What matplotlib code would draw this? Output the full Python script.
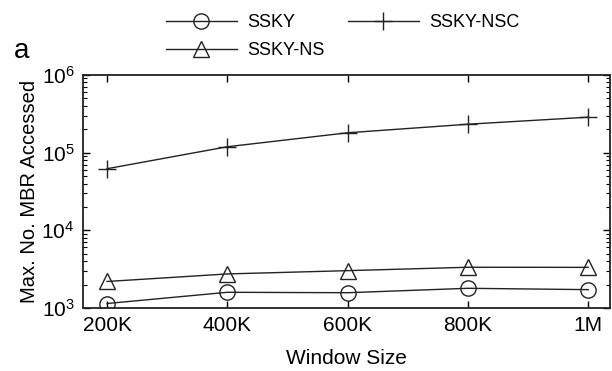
import matplotlib
matplotlib.use('Agg')
import matplotlib.pyplot as plt
from matplotlib.ticker import LogLocator, NullFormatter

# data
window_labels = ['200K', '400K', '600K', '800K', '1M']
x = [1, 2, 3, 4, 5]
sskY = [1140, 1590, 1570, 1790, 1720]
sskY_nsc = [62000, 119000, 180000, 232000, 286000]
sskY_ns = [2190, 2740, 3020, 3340, 3330]

plt.rcParams['font.family'] = ['Liberation Sans', 'DejaVu Sans']
plt.rcParams['mathtext.fontset'] = 'custom'
plt.rcParams['mathtext.rm'] = 'Liberation Sans'

fig = plt.figure(figsize=(6.12, 3.71), dpi=100)
ax = fig.add_axes([0.1356, 0.170, 0.861, 0.628])

l1, = ax.plot(x, sskY, color='#222222', lw=1, marker='o', ms=11, mfc='none', mec='#222222', mew=1, label='SSKY')
l2, = ax.plot(x, sskY_nsc, color='#222222', lw=1, marker='+', ms=13, mew=1, label='SSKY-NSC')
l3, = ax.plot(x, sskY_ns, color='#222222', lw=1, marker='^', ms=11, mfc='none', mec='#222222', mew=1, label='SSKY-NS')

ax.set_yscale('log')
ax.set_ylim(1e3, 1e6)
ax.set_xlim(0.8, 5.18)
ax.set_xticks(x)
ax.set_xticklabels(window_labels)
ax.yaxis.set_major_locator(LogLocator(base=10, numticks=10))
ax.yaxis.set_minor_locator(LogLocator(base=10, subs=range(2, 10), numticks=10))
ax.yaxis.set_minor_formatter(NullFormatter())

ax.tick_params(which='both', direction='in', top=True, right=True, labelsize=15)
ax.tick_params(axis='x', pad=6)
ax.tick_params(axis='y', pad=6)
ax.tick_params(which='major', length=5, width=1)
ax.tick_params(which='minor', length=3, width=0.8)
for s in ax.spines.values():
    s.set_linewidth(1.3)
    s.set_color('#222222')

ax.set_xlabel('Window Size', fontsize=15, labelpad=10)
ax.set_ylabel('Max. No. MBR Accessed', fontsize=14.5, labelpad=2)

# column-wise fill: SSKY / SSKY-NS in col 1, SSKY-NSC in col 2
fig.legend(handles=[l1, l3, l2], loc='upper left', bbox_to_anchor=(0.245, 1.005), ncol=2,
           frameon=False, fontsize=13, handlelength=3.9, columnspacing=1.3, labelspacing=0.6,
           handletextpad=0.6)
fig.text(0.022, 0.845, 'a', fontsize=20)

plt.savefig('out.png', dpi=100)
